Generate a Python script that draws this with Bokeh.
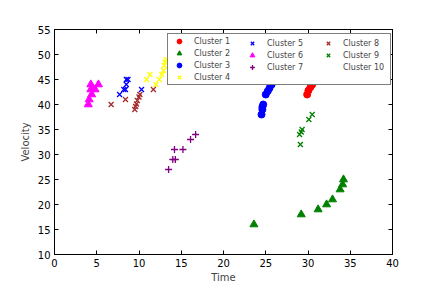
from bokeh.plotting import figure
from bokeh.models import LinearAxis, Legend, LegendItem, FixedTicker
from bokeh.embed import file_html
from bokeh.resources import INLINE

c1_x = [29.9, 30.05, 30.3, 30.5]
c1_y = [42, 42.8, 43.5, 44]
c2_x = [23.6, 29.2, 31.2, 32.2, 32.9, 33.8, 34.1, 34.2]
c2_y = [16, 18, 19, 20, 21, 23, 24, 25]
c3_x = [24.5, 24.6, 24.6, 24.7, 25.0, 25.25, 25.45, 25.7]
c3_y = [38, 39, 39.5, 40, 42, 42.7, 43.3, 44]
c4_x = [10.9, 11.3, 12.0, 12.4, 12.7, 12.9, 13.0, 13.1, 13.2]
c4_y = [45, 46, 44, 45, 46, 46.8, 47.8, 48.5, 49]
c5_x = [7.7, 8.2, 8.4, 8.5, 8.7, 8.5, 10.3]
c5_y = [42, 43, 43, 44, 45, 45, 43]
c6_x = [4.0, 4.1, 4.4, 4.3, 4.3, 4.8, 5.2]
c6_y = [40, 41, 42, 43, 44, 43, 44]
c7_x = [13.5, 14.0, 14.3, 14.2, 15.2, 16.1, 16.7]
c7_y = [27, 29, 29, 31, 31, 33, 34]
c8_x = [6.7, 8.4, 9.5, 9.6, 9.7, 9.8, 10.0, 10.1, 11.7]
c8_y = [40, 41, 39, 39.6, 40.1, 40.8, 41.5, 42, 43]
c9_x = [29.1, 29.0, 29.2, 29.3, 30.1, 30.5]
c9_y = [32, 34, 34.5, 35, 37, 38]
c10_x = []
c10_y = []

x_ticks = [0, 5, 10, 15, 20, 25, 30, 35, 40]
y_ticks = [10, 15, 20, 25, 30, 35, 40, 45, 50, 55]

FONT = "DejaVu Sans"

p = figure(frame_width=338, frame_height=225, x_range=(0, 40), y_range=(10, 55),
           output_backend="svg", toolbar_location=None,
           min_border_left=54, min_border_right=36, min_border_top=29,
           min_border_bottom=20)
p.xaxis.visible = False
p.yaxis.visible = False
p.grid.visible = False
p.outline_line_color = "black"
p.outline_line_width = 1
p.background_fill_color = "white"

def make_axis(loc, ticks, label=None, show_labels=True, label_standoff=4):
    ax = LinearAxis(ticker=FixedTicker(ticks=ticks))
    ax.major_tick_in = 4
    ax.major_tick_out = 0
    ax.minor_tick_in = 0
    ax.minor_tick_out = 0
    ax.axis_line_color = "black"
    ax.major_tick_line_color = "black"
    ax.major_label_text_font = FONT
    ax.major_label_text_font_size = "10px" if show_labels else "0px"
    ax.major_label_text_color = "black" if show_labels else None
    ax.major_label_standoff = 4
    if label:
        ax.axis_label = label
        ax.axis_label_text_font = FONT
        ax.axis_label_text_font_size = "10px"
        ax.axis_label_text_font_style = "normal"
        ax.axis_label_standoff = label_standoff
    p.add_layout(ax, loc)
    return ax

make_axis("below", x_ticks, "Time", label_standoff=2)
make_axis("left", y_ticks, "Velocity")
make_axis("above", x_ticks, show_labels=False)
make_axis("right", y_ticks, show_labels=False)

S = 7
LW = 1.3
r1 = p.scatter(c1_x, c1_y, marker="circle", size=S, color="red")
r2 = p.scatter(c2_x, c2_y, marker="triangle", size=S + 1, color="green")
r3 = p.scatter(c3_x, c3_y, marker="circle", size=S, color="blue")
r4 = p.scatter(c4_x, c4_y, marker="x", size=S, line_color="yellow", line_width=LW)
r5 = p.scatter(c5_x, c5_y, marker="x", size=S, line_color="blue", line_width=LW)
r6 = p.scatter(c6_x, c6_y, marker="triangle", size=S + 1, color="magenta")
r7 = p.scatter(c7_x, c7_y, marker="cross", size=S, line_color="purple", line_width=LW)
r8 = p.scatter(c8_x, c8_y, marker="x", size=S, line_color="brown", line_width=LW)
r9 = p.scatter(c9_x, c9_y, marker="x", size=S, line_color="green", line_width=LW)
r10 = p.scatter(c10_x, c10_y, marker="circle", size=S - 2, color="violet")
blank = p.scatter([], [], marker="circle", size=1, fill_alpha=0, line_alpha=0)

columns = [
    [("Cluster 1", r1), ("Cluster 2", r2), ("Cluster 3", r3), ("Cluster 4", r4)],
    [("Cluster 5", r5), ("Cluster 6", r6), ("Cluster 7", r7), (" ", blank)],
    [("Cluster 8", r8), ("Cluster 9", r9), ("Cluster 10", r10), (" ", blank)],
]
# legend column left edges, in pixels from the frame's left edge
col_left = [113, 188, 264]
legend_bottom_from_frame_bottom = 169
PAD, SP, GH = 1, 0, 12

for i, col in enumerate(columns):
    lg = Legend(items=[LegendItem(label=l, renderers=[r]) for l, r in col],
                location=(col_left[i], legend_bottom_from_frame_bottom),
                orientation="vertical")
    lg.label_text_font = FONT
    lg.label_text_font_size = "8px"
    lg.label_height = GH
    lg.glyph_height = GH
    lg.glyph_width = 20
    lg.spacing = SP
    lg.padding = PAD
    lg.margin = 0
    lg.label_standoff = 5
    if i == 0:
        lg.label_width = 195
        lg.border_line_color = "black"
        lg.border_line_width = 1
        lg.background_fill_color = "white"
        lg.background_fill_alpha = 1
    else:
        lg.border_line_color = None
        lg.background_fill_alpha = 0
    p.add_layout(lg, "center")

open("out.html", "w").write(file_html(p, INLINE))
